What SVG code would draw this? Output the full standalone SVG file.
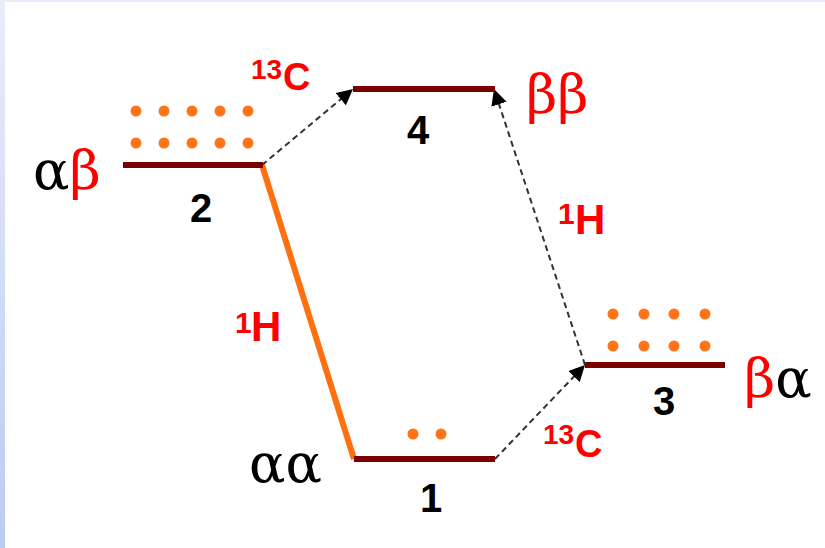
<svg xmlns="http://www.w3.org/2000/svg" width="825" height="548" viewBox="0 0 825 548">
<defs>
<linearGradient id="edge" x1="0" y1="0" x2="0" y2="1">
<stop offset="0" stop-color="#e8edf9"/>
<stop offset="1" stop-color="#bccbf2"/>
</linearGradient>
<marker id="ah" viewBox="0 0 10 10" refX="10" refY="5" markerWidth="8" markerHeight="8" markerUnits="strokeWidth" orient="auto">
<path d="M0,0 L10,5 L0,10 z" fill="#000"/>
</marker>
<style>
.lvl{stroke:#7a0000;stroke-width:6;fill:none}
.dot{fill:#ff7417}
.num{font-family:"Liberation Sans",Arial,sans-serif;font-weight:bold;font-size:40px;fill:#000;text-anchor:middle}
.gr{font-family:"DejaVu Serif","Liberation Serif",serif;font-size:54px}
.red{fill:#ff0000}
.blk{fill:#000}
.nuc{font-family:"Liberation Sans",Arial,sans-serif;font-weight:bold;fill:#ff0000}
.dash{stroke:#333;stroke-width:2;stroke-dasharray:6,4;fill:none;marker-end:url(#ah)}
</style>
</defs>
<rect width="825" height="548" fill="#fff"/>
<rect x="0" y="0" width="825" height="2" fill="#e6ecf9"/>
<rect x="0" y="0" width="5" height="548" fill="url(#edge)"/>

<g id="connectors">
<line x1="262" y1="165" x2="354" y2="459" stroke="#ff7010" stroke-width="6"/>
<line class="dash" x1="262" y1="165" x2="353" y2="89"/>
<line class="dash" x1="585" y1="365" x2="494" y2="89"/>
<line class="dash" x1="495" y1="459" x2="585" y2="365"/>
<g id="label-13C-top"><text class="nuc" x="251" y="79" font-size="28">13</text><text class="nuc" x="283" y="90" font-size="38">C</text></g>
<g id="label-13C-bottom"><text class="nuc" x="543" y="444" font-size="28">13</text><text class="nuc" x="575" y="457" font-size="38">C</text></g>
<g id="label-1H-left"><text class="nuc" x="235" y="333" font-size="30">1</text><text class="nuc" x="251" y="341" font-size="42">H</text></g>
<g id="label-1H-right"><text class="nuc" x="558" y="224" font-size="30">1</text><text class="nuc" x="575" y="234" font-size="42">H</text></g>
</g>

<g id="level-2">
<line class="lvl" x1="123" y1="165" x2="263" y2="165"/>
<g>
<circle class="dot" cx="136" cy="111" r="5.5"/><circle class="dot" cx="164" cy="111" r="5.5"/><circle class="dot" cx="192" cy="111" r="5.5"/><circle class="dot" cx="220" cy="111" r="5.5"/><circle class="dot" cx="248" cy="111" r="5.5"/>
<circle class="dot" cx="136" cy="143" r="5.5"/><circle class="dot" cx="164" cy="143" r="5.5"/><circle class="dot" cx="192" cy="143" r="5.5"/><circle class="dot" cx="220" cy="143" r="5.5"/><circle class="dot" cx="248" cy="143" r="5.5"/>
</g>
<text class="num" x="201" y="222">2</text>
<text class="gr" x="33" y="189"><tspan class="blk">α</tspan><tspan class="red">β</tspan></text>
</g>

<g id="level-4">
<line class="lvl" x1="353" y1="89" x2="495" y2="89"/>
<text class="num" x="418" y="144">4</text>
<text class="gr red" x="526" y="113">ββ</text>
</g>

<g id="level-3">
<line class="lvl" x1="585" y1="365" x2="725" y2="365"/>
<g>
<circle class="dot" cx="613" cy="314" r="5.5"/><circle class="dot" cx="644" cy="314" r="5.5"/><circle class="dot" cx="674" cy="314" r="5.5"/><circle class="dot" cx="705" cy="314" r="5.5"/>
<circle class="dot" cx="613" cy="346" r="5.5"/><circle class="dot" cx="644" cy="346" r="5.5"/><circle class="dot" cx="674" cy="346" r="5.5"/><circle class="dot" cx="705" cy="346" r="5.5"/>
</g>
<text class="num" x="664" y="415">3</text>
<text class="gr" x="744" y="397"><tspan class="red">β</tspan><tspan class="blk">α</tspan></text>
</g>

<g id="level-1">
<line class="lvl" x1="354" y1="459" x2="495" y2="459"/>
<circle class="dot" cx="413" cy="434" r="5.5"/><circle class="dot" cx="441" cy="434" r="5.5"/>
<text class="num" x="431" y="512">1</text>
<text class="gr blk" x="249" y="482">αα</text>
</g>
</svg>
